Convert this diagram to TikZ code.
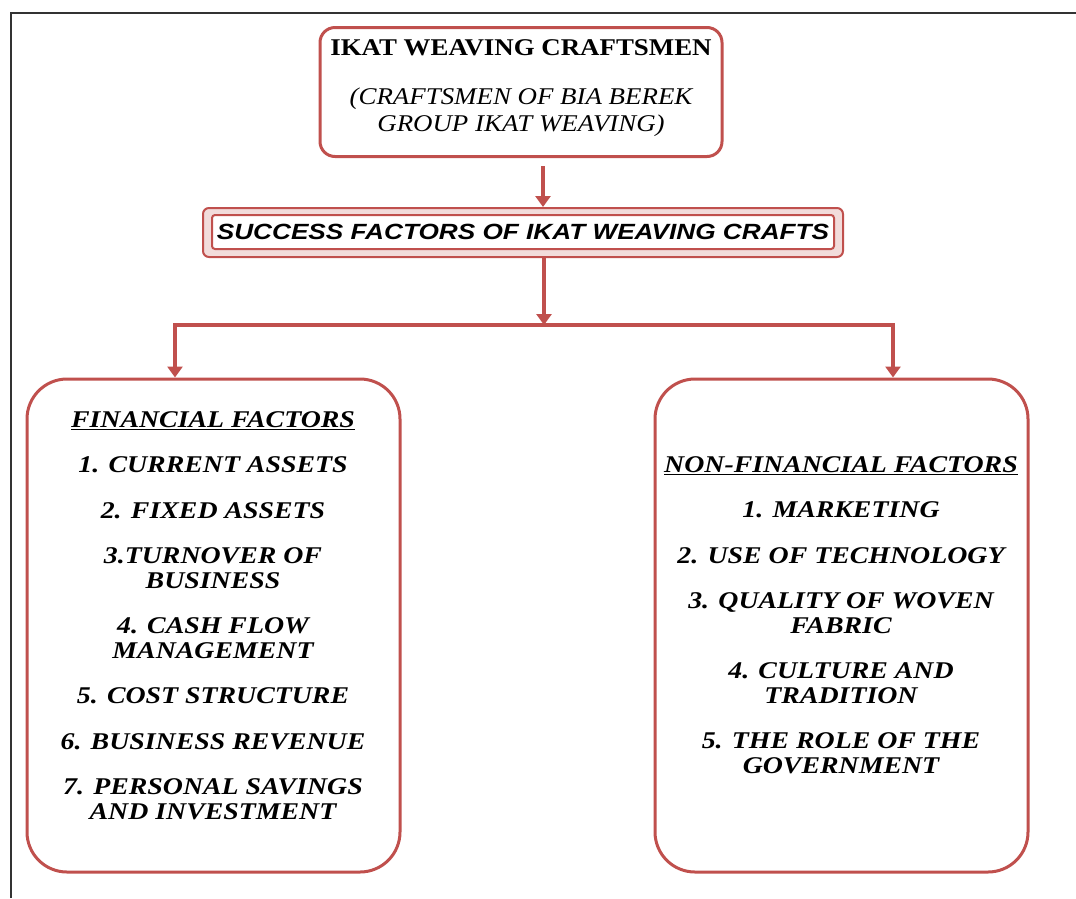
\documentclass[tikz,border=0pt]{standalone}
\usepackage{fontspec}
\setmainfont{Liberation Serif}[FakeStretch=1.12]
\newfontfamily\listfont{Liberation Serif}[FakeStretch=1.16]
\newfontfamily\sfx{Liberation Sans}[FakeStretch=1.19]
\usetikzlibrary{arrows.meta}
\definecolor{boxred}{HTML}{C0504D}
\begin{document}
\begin{tikzpicture}[x=1pt,y=-1pt,
  rbox/.style={draw=boxred, line width=3pt, rounded corners=#1, fill=white},
  conn/.style={draw=boxred, line width=3.2pt},
  arr/.style={conn, -{Triangle[width=15pt,length=11pt]}},
  txt/.style={align=center, inner sep=0pt, text=black},
  list/.style={txt, anchor=north, font=\listfont\fontsize{24}{24.5}\selectfont\bfseries\itshape},
]
\useasboundingbox (0,0) rectangle (1076,898);
% page frame
\draw[line width=2.5pt, black!80] (11,898) -- (11,13) -- (1076,13);

% boxes
\node[rbox=15pt, minimum width=402pt, minimum height=129pt] (top) at (521,92) {};
\node[txt, anchor=north, font=\fontsize{24}{27}\selectfont] (toptxt) at (521,39)
  {{\bfseries IKAT WEAVING CRAFTSMEN}\\[22pt]
   {\itshape (CRAFTSMEN OF BIA BEREK}\\
   {\itshape GROUP IKAT WEAVING)}};

\node[draw=boxred, line width=2pt, rounded corners=6pt, fill=boxred!20,
      minimum width=640pt, minimum height=49pt] (succ) at (523,232.5) {};
\node[draw=boxred, line width=2pt, rounded corners=3pt, fill=white,
      minimum width=622pt, minimum height=34pt] (succin) at (523,232) {};
\node[txt, anchor=base, font=\sfx\fontsize{22}{22}\selectfont\bfseries\itshape] (succtxt) at (523,239)
  {SUCCESS FACTORS OF IKAT WEAVING CRAFTS};

\node[rbox=40pt, minimum width=373pt, minimum height=493pt] (fin) at (213.5,625.5) {};
\node[list] (fintxt) at (213,411)
  {\underline{FINANCIAL FACTORS}\\[21pt]
   1. CURRENT ASSETS\\[21pt]
   2. FIXED ASSETS\\[21pt]
   3.TURNOVER OF\\ BUSINESS\\[21pt]
   4. CASH FLOW\\ MANAGEMENT\\[21pt]
   5. COST STRUCTURE\\[21pt]
   6. BUSINESS REVENUE\\[21pt]
   7. PERSONAL SAVINGS\\ AND INVESTMENT};

\node[rbox=40pt, minimum width=373pt, minimum height=493pt] (nf) at (841.5,625.5) {};
\node[list] (nftxt) at (841,456)
  {\underline{NON-FINANCIAL FACTORS}\\[21pt]
   1. MARKETING\\[21pt]
   2. USE OF TECHNOLOGY\\[21pt]
   3. QUALITY OF WOVEN\\ FABRIC\\[21pt]
   4. CULTURE AND\\ TRADITION\\[21pt]
   5. THE ROLE OF THE\\ GOVERNMENT};

% connectors
\coordinate (c1) at (543,0);
\coordinate (j) at (544,325);
\coordinate (lx) at (175,325);
\coordinate (rx) at (893,325);
\draw[arr] ([yshift=-8pt]top.south -| c1) -- (succ.north -| c1);
\draw[arr] (succ.south -| j) -- (j);
\draw[arr] (j) -- (lx) -- (lx |- fin.north);
\draw[arr] (j) -- (rx) -- (rx |- nf.north);
\end{tikzpicture}
\end{document}
